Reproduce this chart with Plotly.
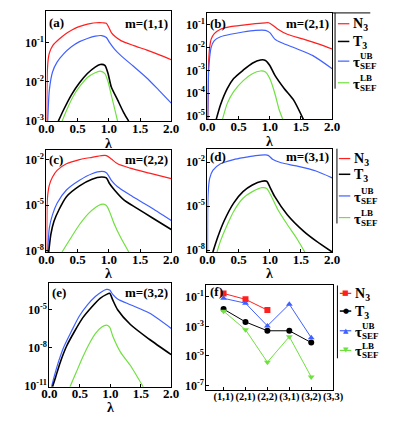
import plotly.graph_objects as go

W, H = 399, 437
FONT = "Times New Roman"
RED, BLUE, BLACK, GREEN = "#ff1f1f", "#4060ff", "#000000", "#70e040"

lam_tickvals = [0, 0.5, 1.0, 1.5, 2.0]
lam_ticktext = ["0.0", "0.5", "1.0", "1.5", "2.0"]

# ---- panel (a) m=(1,1): lambda and log10 values ----
a_lam_N3 = [0.003, 0.008, 0.015, 0.03, 0.05, 0.1, 0.2, 0.3, 0.4, 0.5, 0.6, 0.7, 0.8, 0.9, 0.96, 1.0, 1.04, 1.1, 1.2, 1.4, 1.6, 1.8, 2.0]
a_N3 = [-3.0, -2.2, -1.7, -1.4, -1.25, -1.08, -0.92, -0.79, -0.69, -0.61, -0.56, -0.52, -0.5, -0.5, -0.51, -0.62, -0.75, -0.85, -0.96, -1.08, -1.19, -1.31, -1.44]
a_lam_UB = [0.02, 0.046, 0.097, 0.17, 0.275, 0.4, 0.53, 0.656, 0.784, 0.885, 0.96, 1.01, 1.09, 1.19, 1.39, 1.6, 1.8, 2.0]
a_UB = [-3.0, -2.21, -1.75, -1.5, -1.29, -1.11, -0.98, -0.9, -0.84, -0.825, -0.875, -1.0, -1.17, -1.33, -1.6, -1.89, -2.21, -2.54]
a_lam_T3 = [0.19, 0.275, 0.40, 0.53, 0.656, 0.78, 0.86, 0.936, 0.987, 1.038, 1.14, 1.24, 1.318]
a_T3 = [-3.0, -2.71, -2.33, -2.025, -1.79, -1.625, -1.56, -1.58, -1.79, -2.125, -2.46, -2.79, -3.0]
a_lam_LB = [0.25, 0.326, 0.427, 0.53, 0.656, 0.78, 0.86, 0.936, 0.987, 1.038, 1.09, 1.14]
a_LB = [-3.0, -2.71, -2.375, -2.125, -1.89, -1.77, -1.73, -1.79, -2.0, -2.33, -2.67, -3.0]

# ---- panel (b) m=(2,1) ----
b_lam_N3 = [0.005, 0.02, 0.036, 0.06, 0.11, 0.21, 0.37, 0.57, 0.77, 0.93, 0.98, 1.03, 1.13, 1.28, 1.54, 1.79, 2.0]
b_N3 = [-5.15, -2.6, -2.0, -1.64, -1.4, -1.21, -1.1, -1.03, -0.97, -0.93, -0.93, -1.0, -1.21, -1.43, -1.64, -1.86, -2.07]
b_lam_UB = [0.005, 0.02, 0.036, 0.06, 0.11, 0.21, 0.37, 0.57, 0.77, 0.93, 1.0, 1.08, 1.18, 1.44, 1.69, 2.0]
b_UB = [-5.15, -3.0, -2.43, -2.0, -1.71, -1.54, -1.43, -1.33, -1.26, -1.26, -1.36, -1.64, -1.79, -2.07, -2.36, -2.93]
b_lam_T3 = [0.14, 0.21, 0.32, 0.42, 0.57, 0.72, 0.85, 0.93, 1.0, 1.08, 1.23, 1.38, 1.54]
b_T3 = [-5.15, -4.5, -3.79, -3.36, -3.0, -2.69, -2.55, -2.57, -2.79, -3.21, -3.79, -4.29, -5.15]
b_lam_LB = [0.24, 0.32, 0.42, 0.57, 0.72, 0.85, 0.93, 1.0, 1.08, 1.15, 1.21]
b_LB = [-5.15, -4.43, -3.93, -3.46, -3.15, -3.03, -3.07, -3.36, -4.0, -4.72, -5.15]

# ---- panel (c) m=(2,2) ----
c_lam_N3 = [0.005, 0.01, 0.02, 0.046, 0.097, 0.17, 0.32, 0.53, 0.73, 0.885, 0.96, 1.04, 1.14, 1.34, 1.65, 2.0]
c_N3 = [-8.08, -4.98, -4.33, -3.68, -3.15, -2.71, -2.28, -2.0, -1.85, -1.74, -1.74, -1.96, -2.28, -2.56, -2.89, -3.25]
c_lam_UB = [0.02, 0.046, 0.097, 0.17, 0.32, 0.53, 0.73, 0.885, 0.96, 1.04, 1.14, 1.34, 1.65, 2.0]
c_UB = [-8.08, -6.49, -5.62, -4.87, -4.0, -3.36, -2.93, -2.78, -2.86, -3.36, -3.79, -4.33, -5.09, -6.01]
c_lam_T3 = [0.036, 0.07, 0.12, 0.2, 0.32, 0.53, 0.73, 0.885, 0.96, 1.01, 1.09, 1.24, 1.445, 1.7, 2.0]
c_T3 = [-8.08, -6.92, -6.06, -5.3, -4.44, -3.73, -3.29, -3.15, -3.21, -3.57, -4.0, -4.65, -5.19, -5.84, -6.6]
c_lam_LB = [0.25, 0.377, 0.53, 0.68, 0.835, 0.91, 0.96, 1.01, 1.09, 1.19, 1.32]
c_LB = [-8.08, -7.24, -6.27, -5.52, -5.02, -4.93, -5.02, -5.41, -6.27, -7.13, -8.08]

# ---- panel (d) m=(3,1) ----
d_lam_UB = [0.003, 0.01, 0.036, 0.087, 0.21, 0.42, 0.62, 0.77, 0.93, 0.98, 1.05, 1.18, 1.44, 1.74, 2.0]
d_UB = [-8.13, -4.24, -3.11, -2.56, -2.11, -1.82, -1.66, -1.55, -1.5, -1.55, -1.82, -2.04, -2.27, -2.6, -3.07]
d_lam_T3 = [0.087, 0.163, 0.265, 0.42, 0.57, 0.72, 0.875, 0.95, 1.0, 1.08, 1.28, 1.54, 1.74, 2.0]
d_T3 = [-8.13, -7.14, -6.03, -4.79, -4.01, -3.56, -3.3, -3.3, -3.68, -4.35, -5.58, -6.7, -7.37, -8.13]
d_lam_LB = [0.153, 0.21, 0.32, 0.42, 0.57, 0.72, 0.875, 0.95, 1.0, 1.13, 1.28, 1.44, 1.56]
d_LB = [-8.13, -7.37, -6.25, -5.36, -4.46, -4.01, -3.74, -3.79, -4.12, -5.24, -6.25, -7.26, -8.13]

# ---- panel (e) m=(3,2) ----
e_lam_UB = [0.036, 0.078, 0.156, 0.234, 0.365, 0.49, 0.625, 0.755, 0.86, 0.94, 0.99, 1.04, 1.12, 1.33, 1.64, 2.0]
e_UB = [-11.06, -10.28, -9.0, -7.96, -6.67, -5.51, -4.61, -3.96, -3.58, -3.4, -3.45, -3.79, -4.15, -4.61, -5.26, -6.47]
e_lam_T3 = [0.052, 0.104, 0.18, 0.286, 0.417, 0.547, 0.703, 0.833, 0.94, 0.99, 1.04, 1.12, 1.33, 1.64, 2.0]
e_T3 = [-11.06, -10.28, -9.12, -7.83, -6.67, -5.64, -4.74, -4.1, -3.79, -3.71, -4.23, -5.0, -6.16, -7.32, -8.53]
e_lam_LB = [0.339, 0.443, 0.547, 0.651, 0.755, 0.86, 0.94, 0.99, 1.04, 1.17, 1.33, 1.54]
e_LB = [-11.06, -9.9, -8.74, -7.71, -6.88, -6.36, -6.21, -6.36, -7.06, -8.35, -9.38, -11.06]

# ---- panel (f) summary ----
f_cats = ["(1,1)", "(2,1)", "(2,2)", "(3,1)", "(3,2)", "(3,3)"]
f_N3 = [-0.77, -1.17, -1.9]
f_T3 = [-1.83, -2.7, -3.3, -3.3, -4.1]
f_UB = [-1.1, -1.43, -2.97, -1.5, -3.77]
f_LB = [-1.97, -3.23, -5.43, -3.7, -6.43]


def X(px):
    return px / W


def Y(py):
    return 1 - py / H


def pw(v):
    return [10 ** e for e in v]


def B(s):
    return f"<b>{s}</b>"


fig = go.Figure()

panels = {
    "a": dict(ax=1, box=(32, 163, 3, 115), yr=[-3.0, -0.2], ticks=[-1, -2, -3]),
    "b": dict(ax=2, box=(201, 332, 5, 113), yr=[-5.13, -0.5], ticks=[-1, -2, -3, -4, -5]),
    "c": dict(ax=3, box=(32, 163, 144, 248), yr=[-8.08, -1.35], ticks=[-2, -5, -8]),
    "d": dict(ax=4, box=(201, 332, 143, 248), yr=[-8.13, -1.08], ticks=[-2, -5, -8]),
    "e": dict(ax=5, box=(35, 163, 279, 385), yr=[-11.06, -2.86], ticks=[-5, -8, -11]),
    "f": dict(ax=6, box=(200, 333, 282, 388), yr=[-7.3, -0.23], ticks=[-1, -3, -5, -7]),
}

layout_axes = {}
for key, p in panels.items():
    n = p["ax"]
    l, r, t, b = p["box"]
    xs = "xaxis" if n == 1 else f"xaxis{n}"
    ys = "yaxis" if n == 1 else f"yaxis{n}"
    common = dict(showline=True, linecolor="black", linewidth=1, mirror=True,
                  showgrid=False, zeroline=False, ticks="inside", ticklen=3,
                  tickcolor="black")
    if key == "f":
        layout_axes[xs] = dict(domain=[X(l), X(r)], anchor=f"y{n}", type="category",
                               categoryorder="array", categoryarray=f_cats,
                               tickvals=f_cats, ticktext=[B(c) for c in f_cats],
                               range=[-0.78, 5.0], tickangle=0, ticklabelstandoff=-3,
                               tickfont=dict(family=FONT, size=10.5, color="black"),
                               **common)
    else:
        layout_axes[xs] = dict(domain=[X(l), X(r)], anchor=f"y{n}", range=[0, 2],
                               tickvals=lam_tickvals, ticktext=[B(t_) for t_ in lam_ticktext],
                               ticklabelstandoff=-5,
                               tickfont=dict(family=FONT, size=13, color="black"), **common)
    layout_axes[ys] = dict(domain=[Y(b), Y(t)], anchor=f"x{n}", type="log", range=p["yr"],
                           tickvals=[10 ** e for e in p["ticks"]],
                           ticktext=[B(f"10<sup>{e}</sup>") for e in p["ticks"]],
                           ticklabelstandoff=-1,
                           tickfont=dict(family=FONT, size=12, color="black"),
                           **common)


def add_line(n, xv, yv, color, width=1.2):
    fig.add_trace(go.Scatter(x=xv, y=pw(yv), mode="lines",
                             line=dict(color=color, width=width, shape="spline", smoothing=0.7),
                             xaxis="x" if n == 1 else f"x{n}", yaxis="y" if n == 1 else f"y{n}",
                             showlegend=False, hoverinfo="skip"))


BW = 1.6
add_line(1, a_lam_N3, a_N3, RED)
add_line(1, a_lam_UB, a_UB, BLUE)
add_line(1, a_lam_T3, a_T3, BLACK, BW)
add_line(1, a_lam_LB, a_LB, GREEN)

add_line(2, b_lam_N3, b_N3, RED)
add_line(2, b_lam_UB, b_UB, BLUE)
add_line(2, b_lam_T3, b_T3, BLACK, BW)
add_line(2, b_lam_LB, b_LB, GREEN)

add_line(3, c_lam_N3, c_N3, RED)
add_line(3, c_lam_UB, c_UB, BLUE)
add_line(3, c_lam_T3, c_T3, BLACK, BW)
add_line(3, c_lam_LB, c_LB, GREEN)

add_line(4, d_lam_UB, d_UB, BLUE)
add_line(4, d_lam_T3, d_T3, BLACK, BW)
add_line(4, d_lam_LB, d_LB, GREEN)

add_line(5, e_lam_UB, e_UB, BLUE)
add_line(5, e_lam_T3, e_T3, BLACK, BW)
add_line(5, e_lam_LB, e_LB, GREEN)


def add_pts(xv, yv, color, symbol):
    fig.add_trace(go.Scatter(x=xv, y=pw(yv), mode="lines+markers",
                             line=dict(color=color, width=1),
                             marker=dict(color=color, symbol=symbol, size=6),
                             xaxis="x6", yaxis="y6", showlegend=False, hoverinfo="skip"))


add_pts(f_cats[:len(f_N3)], f_N3, RED, "square")
add_pts(f_cats[:len(f_T3)], f_T3, BLACK, "circle")
add_pts(f_cats[:len(f_UB)], f_UB, BLUE, "triangle-up")
add_pts(f_cats[:len(f_LB)], f_LB, GREEN, "triangle-down")

ann = []
shapes = []


def txt(x, y, s, size=12, xanchor="left", color="black", family=FONT):
    ann.append(dict(x=X(x), y=Y(y), xref="paper", yref="paper", text=B(s), showarrow=False,
                    xanchor=xanchor, yanchor="middle",
                    font=dict(family=family, size=size, color=color)))


# panel labels
txt(33, 15, "(a)", size=13); txt(162, 16, "m=(1,1)", size=13, xanchor="right")
txt(202, 16, "(b)", size=13); txt(331, 16, "m=(2,1)", size=13, xanchor="right")
txt(33, 154, "(c)", size=13); txt(162, 154, "m=(2,2)", size=13, xanchor="right")
txt(202, 151, "(d)", size=13); txt(331, 151, "m=(3,1)", size=13, xanchor="right")
txt(36, 289, "(e)", size=13); txt(162, 289, "m=(3,2)", size=13, xanchor="right")
txt(202, 288, "(f)", size=13)

# lambda axis titles
for xc, yc in [(97, 138), (266, 136), (97, 270), (266, 270), (99, 406)]:
    txt(xc, yc, "λ", size=14, xanchor="center")

colors = [RED, BLACK, BLUE, GREEN]
glyphs = ["■", "●", "▲", "▼"]


def legend(x0, rows, markers=False):
    for i, (yy, col) in enumerate(zip(rows, colors)):
        shapes.append(dict(type="line", xref="paper", yref="paper",
                           x0=X(x0 + 2), x1=X(x0 + 14), y0=Y(yy), y1=Y(yy),
                           line=dict(color=col, width=1.5 if col == BLACK else 1.2)))
        if markers:
            ann.append(dict(x=X(x0 + 8), y=Y(yy), xref="paper", yref="paper", text=glyphs[i],
                            showarrow=False, xanchor="center", yanchor="middle",
                            font=dict(family="DejaVu Sans", size=7, color=col)))
        tx = x0 + 16
        if i == 0:
            txt(tx, yy + 1, "N<sub>3</sub>", size=14)
        elif i == 1:
            txt(tx, yy + 1, "T<sub>3</sub>", size=14)
        else:
            sup = "UB" if i == 2 else "LB"
            txt(tx, yy + 1, "τ", size=15)
            txt(tx + 7, yy - 5, sup, size=9)
            txt(tx + 7, yy + 5, "SEF", size=9)


legend(336, [16, 34, 54, 76])
legend(337, [153, 169, 191, 213])
legend(338, [290, 308, 328, 348], markers=True)


def vline(x, y0, y1, color="black"):
    shapes.append(dict(type="line", xref="paper", yref="paper", x0=X(x), x1=X(x),
                       y0=Y(y0), y1=Y(y1), line=dict(color=color, width=1)))


vline(335, 5, 82)
vline(337, 143, 219)
vline(337.5, 282, 356)
shapes.append(dict(type="line", xref="paper", yref="paper", x0=X(332), x1=X(372),
                   y0=Y(5), y1=Y(5), line=dict(color="black", width=1)))

fig.update_layout(width=W, height=H, autosize=False,
                  margin=dict(l=0, r=0, t=0, b=0),
                  paper_bgcolor="white", plot_bgcolor="white",
                  showlegend=False, annotations=ann, shapes=shapes,
                  font=dict(family=FONT, color="black"),
                  **layout_axes)

fig.write_html("out.html")
